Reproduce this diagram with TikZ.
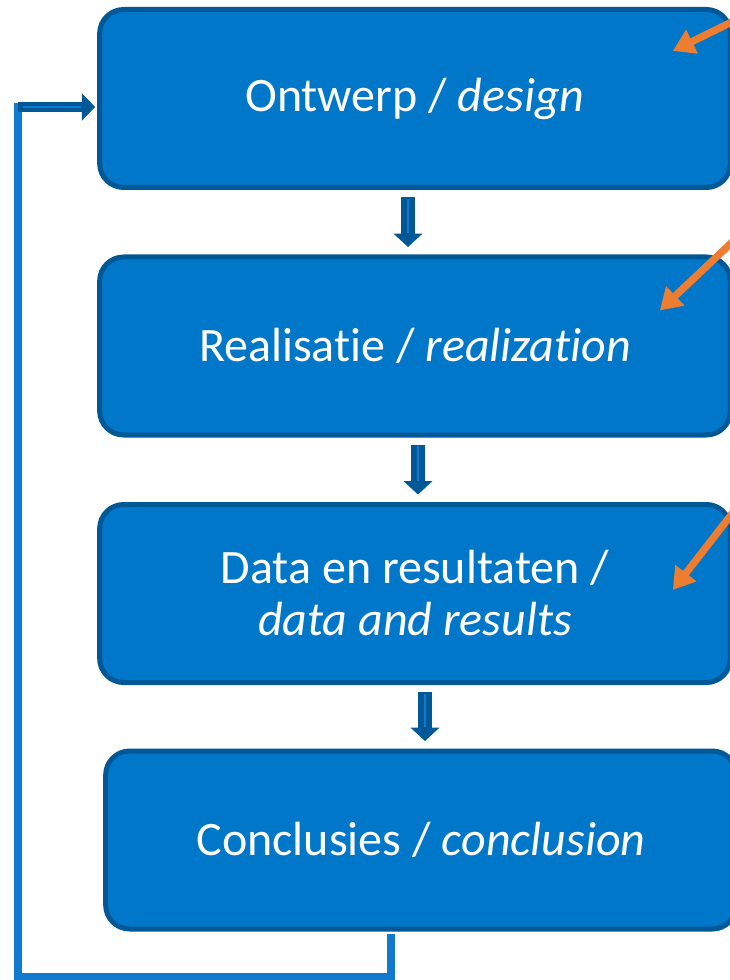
\documentclass[tikz,border=0pt]{standalone}
\usepackage{fontspec}
\setmainfont{Carlito}[Ligatures=NoCommon]
\usetikzlibrary{arrows.meta}
\definecolor{boxblue}{RGB}{0,119,200}
\definecolor{boxedge}{RGB}{0,88,150}
\definecolor{linkblue}{RGB}{18,122,206}
\definecolor{pointorange}{RGB}{237,125,49}
\tikzset{
  stage/.style={draw=boxedge, fill=boxblue, line width=3.75pt, rounded corners=18pt,
    minimum width=473pt, minimum height=133.5pt, text=white, align=center,
    font=\fontsize{36}{39}\selectfont},
  flow/.style={draw=boxedge, line width=10pt, -{Triangle[width=21pt,length=10pt]}},
  flowcore/.style={draw=linkblue, line width=2pt},
  loopline/.style={draw=linkblue, line width=5.5pt},
  pointer/.style={draw=pointorange, line width=5.5pt, -{Triangle[width=19pt,length=16pt]}}
}

\begin{document}
\begin{tikzpicture}[x=0.75pt,y=-0.75pt]
		%%%%% START %%%%%
		\useasboundingbox (0,0) rectangle (729,980);
		
		\node[stage] (design) at (415, 98.5) {Ontwerp / \textit{design}};
		\node[stage] (realization) at (415, 346) {Realisatie / \textit{realization}};
		\node[stage] (data) at (415, 593.5) {Data en resultaten /\\ \textit{data and results}};
		\node[stage] (conclusion) at (421, 840) {Conclusies / \textit{conclusion}};
		
		% down arrows
		\draw[flow, shorten <=5.6pt, shorten >=5.6pt] ([shift={(-7,0)}]design.south) -- ([shift={(-7,0)}]realization.north);
		\draw[flowcore, shorten <=6.5pt, shorten >=16pt] ([shift={(-7,0)}]design.south) -- ([shift={(-7,0)}]realization.north);
		\draw[flow, shorten <=5.6pt, shorten >=5.6pt] ([shift={(3,0)}]realization.south) -- ([shift={(3,0)}]data.north);
		\draw[flowcore, shorten <=6.5pt, shorten >=16pt] ([shift={(3,0)}]realization.south) -- ([shift={(3,0)}]data.north);
		\draw[flow, shorten <=5.6pt, shorten >=5.6pt] ([shift={(10,0)}]data.south) -- ([shift={(4,0)}]conclusion.north);
		\draw[flowcore, shorten <=6.5pt, shorten >=16pt] ([shift={(10,0)}]data.south) -- ([shift={(4,0)}]conclusion.north);
		
		% feedback loop
		\coordinate (corner) at (18, 977);
		\coordinate (inlet) at (18, 107);
		\draw[loopline, shorten <=1.9pt] ([shift={(-30,0)}]conclusion.south) |- (corner) -- ([shift={(0,-4)}]inlet);
		\draw[flow, -{Triangle[width=20pt,length=10pt]}, line width=8pt, shorten >=1.5pt] (inlet) -- (inlet -| design.west);
		\draw[flowcore, shorten <=4pt, shorten >=12pt] (inlet) -- (inlet -| design.west);
		
		% orange pointers
		\coordinate (tail1) at (740, 18);
		\coordinate (tail2) at (745, 230);
		\coordinate (tail3) at (745, 497);
		\draw[pointer] (tail1) -- ([shift={(-60,44)}]design.north east);
		\draw[pointer] (tail2) -- ([shift={(-73,56)}]realization.north east);
		\draw[pointer] (tail3) -- ([shift={(-60,88)}]data.north east);
		
		%%%%% END %%%%%
	\end{tikzpicture}
\end{document}
